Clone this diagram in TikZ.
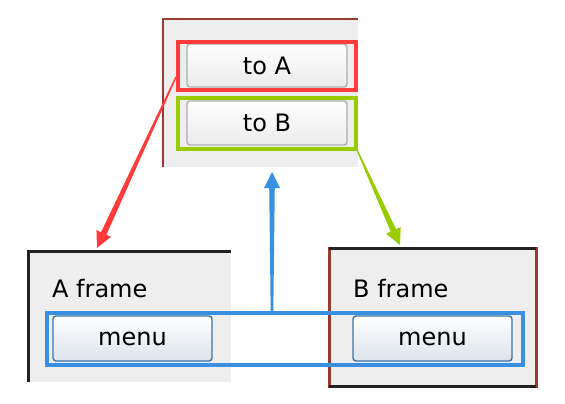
\documentclass[tikz,border=0pt]{standalone}
\usepackage{fontspec}
\setmainfont{DejaVu Sans}
\usetikzlibrary{calc}
\definecolor{winbg}{HTML}{EEEEEE}
\definecolor{brownc}{HTML}{993B2E}
\definecolor{redc}{HTML}{FF3B3B}
\definecolor{greenc}{HTML}{99CC00}
\definecolor{bluec}{HTML}{3A90E0}
\definecolor{btnborder}{HTML}{AFAFAF}
\definecolor{menuborder}{HTML}{3A75A8}
\definecolor{menubot}{HTML}{DCE3EA}
\definecolor{darkc}{HTML}{222222}
\newcommand\taparrow[5]{% color, start, end, start half-width, end half-width
  \coordinate (tapP) at ($(#3)!16pt!(#2)$);
  \coordinate (tapQ) at ($(#3)!14pt!(#2)$);
  \fill[#1] ($(#2)!#4!90:(#3)$) -- ($(tapQ)!#5!90:(#3)$) -- ($(tapQ)!#5!-90:(#3)$) -- ($(#2)!#4!-90:(#3)$) -- cycle;
  \fill[#1] (#3) -- ($(tapP)!8pt!90:(#3)$) -- ($(tapP)!8pt!-90:(#3)$) -- cycle;
}
\tikzset{
  box/.style={rectangle, inner sep=0pt, outer sep=0pt, anchor=north west},
  win/.style={box, fill=winbg},
  btn/.style={box, rounded corners=3pt, draw=btnborder, line width=1.4pt, top color=white, bottom color=black!8, font=\fontsize{24}{28}\selectfont},
  menubtn/.style={box, rounded corners=3pt, draw=menuborder, line width=1.4pt, top color=white, bottom color=menubot, font=\fontsize{24}{28}\selectfont},
  hl/.style={box, line width=3.2pt},
  lbl/.style={inner sep=0pt, anchor=west, font=\fontsize{24}{28}\selectfont},
}
\begin{document}
\begin{tikzpicture}[x=1pt, y=-1pt]
\useasboundingbox (0,0) rectangle (565,404);
% top window
\node[win, minimum width=195pt, minimum height=148pt] (topwin) at (163,19) {};
\draw[brownc, line width=2.4pt] (topwin.south west) -- (topwin.north west) -- (topwin.north east);
\node[btn, minimum width=160pt, minimum height=43pt] (btnA) at (187,44) {to A};
\node[btn, minimum width=160pt, minimum height=44pt] (btnB) at (187,101) {to B};
\node[hl, draw=redc, minimum width=178pt, minimum height=48pt] (redbox) at (178,42) {};
\node[hl, draw=greenc, minimum width=178pt, minimum height=51pt] (greenbox) at (178,98) {};
% A frame
\node[win, minimum width=203pt, minimum height=131pt] (aframe) at (28,251) {};
\draw[darkc, line width=3pt] (aframe.south west) -- (aframe.north west) -- (aframe.north east);
\node[lbl] (alabel) at (52,289) {A frame};
\node[menubtn, minimum width=159pt, minimum height=45pt] (menuA) at (53,316) {menu};
% B frame
\node[win, draw=brownc, line width=3pt, minimum width=207pt, minimum height=138pt] (bframe) at (329,248) {};
\draw[darkc, line width=3pt] (bframe.north west) -- (bframe.north east);
\draw[darkc, line width=3pt] (bframe.south west) -- (bframe.south east);
\node[lbl] (blabel) at (353,289) {B frame};
\node[menubtn, minimum width=159pt, minimum height=45pt] (menuB) at (353,316) {menu};
% blue highlight
\node[hl, draw=bluec, line width=3.2pt, minimum width=476pt, minimum height=52pt] (bluebox) at (47,313) {};
% connectors
\coordinate (redstart) at (176,77);
\coordinate (redend) at (97,248);
\coordinate (greenstart) at (357,150);
\coordinate (greenend) at (400,245);
\coordinate (bluestart) at (272,313);
\coordinate (blueend) at (272,172);
\taparrow{redc}{redstart}{redend}{0.7pt}{3pt}
\taparrow{greenc}{greenstart}{greenend}{0.7pt}{3pt}
\taparrow{bluec}{bluestart}{blueend}{1.3pt}{2.8pt}
\end{tikzpicture}
\end{document}
